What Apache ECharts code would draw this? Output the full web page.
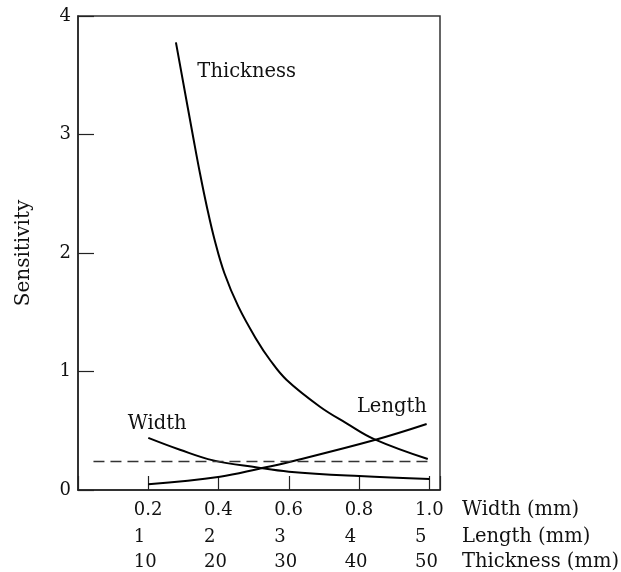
<!DOCTYPE html>
<html>
<head>
<meta charset="utf-8">
<script src="https://cdn.jsdelivr.net/npm/echarts@6/dist/echarts.min.js"></script>
<style>html,body{margin:0;padding:0;background:#fff;}#c{width:621px;height:572px;}</style>
</head>
<body>
<div id="c"></div>
<script>
// Sensitivity vs. dimension (three x scales share one frame)
const widthTicks = [0.2, 0.4, 0.6, 0.8, 1.0];
const lengthTicks = [1, 2, 3, 4, 5];
const thicknessTicks = [10, 20, 30, 40, 50];
const yTicks = [0, 1, 2, 3, 4];

const thicknessMM   = [13.93, 16.46, 17.35, 18.33, 19.44, 20.83, 22.82, 25.43, 27.32, 29.69, 34.42, 38.21, 42.13, 49.76];
const thicknessSens = [3.778, 2.954, 2.673, 2.391, 2.110, 1.829, 1.547, 1.266, 1.097, 0.928, 0.703, 0.563, 0.430, 0.262];

const widthMM   = [0.20, 0.29, 0.385, 0.51, 0.60, 0.80, 1.0];
const widthSens = [0.44, 0.34, 0.25, 0.19, 0.155, 0.118, 0.093];

const lengthMM   = [1.0, 2.02, 2.58, 3.02, 4.22, 4.96];
const lengthSens = [0.048, 0.112, 0.18, 0.239, 0.422, 0.557];

const refLineX = [0.044, 0.995];   // in width units
const refLineY = 0.24;

const annotations = [
  { name: 'Thickness', x: 0.48, y: 3.53 },
  { name: 'Width',     x: 0.2255, y: 0.557 },
  { name: 'Length',    x: 0.893, y: 0.70 }
];

const FONT = 'DejaVu Serif';
const TXT = '#111';

function labelAxis(ticks, max, interval, offset, name) {
  return {
    type: 'value', gridIndex: 0, position: 'bottom', offset: offset,
    min: 0, max: max, interval: interval,
    axisLine: { show: false }, axisTick: { show: false }, splitLine: { show: false },
    axisLabel: {
      show: true, margin: 0, verticalAlign: 'middle',
      formatter: function (v) {
        const hit = ticks.find(t => Math.abs(t - v) < 1e-6);
        if (hit === undefined) return '';
        return '{a|' + (interval < 1 ? hit.toFixed(1) : String(hit)) + '}';
      },
      rich: { a: { width: 29, align: 'left', fontFamily: FONT, fontSize: 18, color: TXT, lineHeight: 20 } }
    },
    name: name, nameLocation: 'end', nameGap: 22,
    nameTextStyle: { fontFamily: FONT, fontSize: 19.5, color: TXT, align: 'left', verticalAlign: 'middle' }
  };
}

const chart = echarts.init(document.getElementById('c'), null, { renderer: 'canvas' });
chart.setOption({
  animation: false,
  backgroundColor: '#fff',
  grid: { left: 78, right: 181, top: 16, bottom: 82, containLabel: false, outerBoundsMode: 'none',
          show: true, borderColor: '#333', borderWidth: 1.5, backgroundColor: 'transparent' },
  xAxis: [
    { type: 'value', gridIndex: 0, position: 'bottom', min: 0, max: 1.03, interval: 0.2,
      axisLine: { show: true, lineStyle: { color: '#222', width: 1.5 } },
      axisTick: { show: true, inside: true, length: 14, lineStyle: { color: '#222', width: 1.2 } },
      axisLabel: { show: false }, splitLine: { show: false } },
    labelAxis(widthTicks, 1.03, 0.2, 20, 'Width (mm)'),
    labelAxis(lengthTicks, 5.15, 1, 47, 'Length (mm)'),
    labelAxis(thicknessTicks, 51.5, 10, 72, 'Thickness (mm)')
  ],
  yAxis: {
    type: 'value', min: 0, max: 4, interval: 1,
    axisLine: { show: true, lineStyle: { color: '#222', width: 1.5 } },
    axisTick: { show: true, inside: true, length: 16, lineStyle: { color: '#222', width: 1.2 } },
    splitLine: { show: false },
    axisLabel: { margin: 7, fontFamily: FONT, fontSize: 18, color: TXT,
      formatter: v => yTicks.includes(v) ? String(v) : '' },
    name: 'Sensitivity', nameLocation: 'middle', nameGap: 44,
    nameTextStyle: { fontFamily: FONT, fontSize: 20, color: TXT }
  },
  series: [
    { type: 'line', name: 'Thickness', xAxisIndex: 3, smooth: 0.4, symbol: 'none',
      lineStyle: { color: '#000', width: 2 },
      data: thicknessMM.map((x, i) => [x, thicknessSens[i]]) },
    { type: 'line', name: 'Width', xAxisIndex: 0, smooth: 0.4, symbol: 'none',
      lineStyle: { color: '#000', width: 2 },
      data: widthMM.map((x, i) => [x, widthSens[i]]) },
    { type: 'line', name: 'Length', xAxisIndex: 2, smooth: 0.4, symbol: 'none',
      lineStyle: { color: '#000', width: 2 },
      data: lengthMM.map((x, i) => [x, lengthSens[i]]) },
    { type: 'line', name: 'ref', xAxisIndex: 0, symbol: 'none',
      lineStyle: { color: '#333', width: 1.5, type: [11, 6] },
      data: refLineX.map(x => [x, refLineY]) },
    { type: 'scatter', name: 'labels', xAxisIndex: 0, symbolSize: 0, silent: true,
      itemStyle: { opacity: 1 },
      label: { show: true, position: 'inside', formatter: p => p.name, fontFamily: FONT, fontSize: 19.5,
               color: TXT, textBorderWidth: 0, opacity: 1 },
      data: annotations.map(a => ({ name: a.name, value: [a.x, a.y] })) }
  ]
});
</script>
</body>
</html>
